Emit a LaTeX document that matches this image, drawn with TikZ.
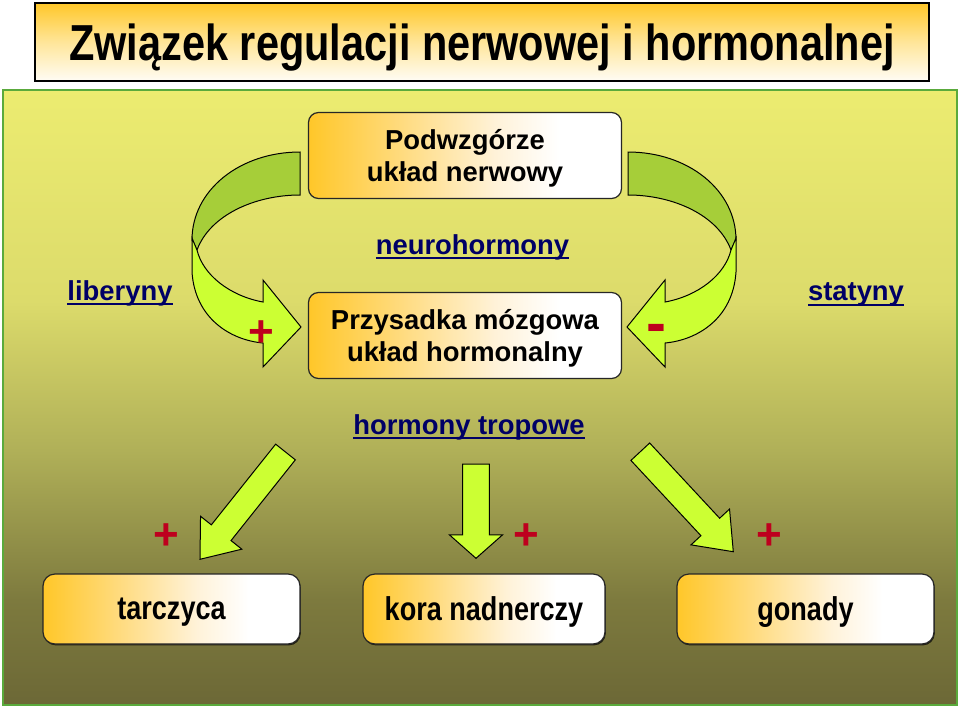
\documentclass[tikz,border=0pt]{standalone}
\usepackage{fontspec}
\setmainfont{Liberation Sans}
\newfontfamily\narrowfont[FakeStretch=0.82]{Liberation Sans}
\usetikzlibrary{calc,shadows}

\definecolor{labelblue}{RGB}{0,0,102}
\definecolor{signred}{RGB}{190,0,30}
\definecolor{arrowlight}{RGB}{204,255,51}
\definecolor{arrowdark}{RGB}{166,206,57}
\definecolor{panelline}{RGB}{90,170,60}

\pgfdeclareverticalshading{panelshade}{100bp}{rgb(0bp)=(0.424,0.408,0.212); rgb(25bp)=(0.424,0.408,0.212);
  rgb(33.5bp)=(0.49,0.478,0.243); rgb(45.7bp)=(0.69,0.69,0.345); rgb(57.9bp)=(0.863,0.859,0.42);
  rgb(75bp)=(0.925,0.925,0.44); rgb(100bp)=(0.925,0.925,0.44)}
\pgfdeclareverticalshading{titleshade}{100bp}{rgb(0bp)=(1,0.99,0.96); rgb(25bp)=(1,0.99,0.96);
  rgb(50bp)=(1,0.9,0.6); rgb(75bp)=(1,0.78,0.16); rgb(100bp)=(1,0.78,0.16)}
\pgfdeclarehorizontalshading{boxshade}{100bp}{rgb(0bp)=(1,0.78,0.16); rgb(25bp)=(1,0.78,0.16);
  rgb(40bp)=(1,0.86,0.5); rgb(55bp)=(1,0.95,0.85); rgb(65bp)=(1,1,1); rgb(100bp)=(1,1,1)}

\newcommand\ulabel[1]{\sbox0{#1}\rlap{\rule[-0.18em]{\wd0}{0.07em}}\usebox0}

\newcommand\blockarrow[5]{%
  \coordinate (#1h) at ($(#2)!#5!(#1)$);
  \draw[blockarrow] ($(#1)!#3!90:(#2)$) -- ($(#1h)!#3!90:(#2)$) -- ($(#1h)!#4!90:(#2)$) -- (#2)
    -- ($(#1h)!#4!-90:(#2)$) -- ($(#1h)!#3!-90:(#2)$) -- ($(#1)!#3!-90:(#2)$) -- cycle;}

\newcommand\curvedarrow{%
  \draw[bandback] (300,152) .. controls (240,152) and (192,190) .. (192,240) -- (197,250)
    .. controls (210,215) and (255,195) .. (300,195) -- cycle;
  \draw[bandfront] (192,238) -- (192,272) .. controls (195,318) and (230,340) .. (263,343)
    -- (263,367) -- (301,327) -- (263,280) -- (263,302)
    .. controls (230,296) and (203,275) .. (197,250) -- cycle;}

\begin{document}
\begin{tikzpicture}[x=0.5pt, y=-0.5pt,
  box/.style={draw=black!85, line width=0.6pt, rounded corners=5pt, shade, shading=boxshade,
    align=center, inner sep=0pt, font=\bfseries\fontsize{13.7}{16.2}\selectfont},
  brain/.style={box, minimum width=156.5pt, minimum height=43pt, text height=29pt},
  organ/.style={box, rounded corners=6pt, minimum height=35pt, text depth=0pt,
    drop shadow={shadow xshift=0.4pt, shadow yshift=-0.7pt, opacity=0.7, fill=black},
    font=\narrowfont\bfseries\fontsize{16.5}{18}\selectfont},
  tag/.style={text=labelblue, inner sep=0pt, anchor=base, font=\bfseries\fontsize{13.7}{16}\selectfont},
  sign/.style={text=signred, inner sep=0pt, font=\bfseries\fontsize{22}{22}\selectfont},
  bandback/.style={draw=black, line width=0.5pt, fill=arrowdark},
  bandfront/.style={draw=black, line width=0.5pt, fill=arrowlight},
  blockarrow/.style={draw=black, line width=0.5pt, fill=arrowlight}]

\useasboundingbox (0,0) rectangle (960,708);
\fill[white] (0,0) rectangle (960,708);
\shadedraw[shading=panelshade, draw=panelline, line width=1pt] (3,90) rectangle (957,705);

\node[draw=black, line width=1pt, shade, shading=titleshade, minimum width=447pt, minimum height=39pt,
  text depth=0pt, inner sep=0pt, font=\narrowfont\bfseries\fontsize{25.3}{28}\selectfont]
  (title) at (482,42) {Związek regulacji nerwowej i hormonalnej};

% petla sprzezenia
\curvedarrow
\begin{scope}[shift={(928,0)}, xscale=-1]
  \curvedarrow
\end{scope}

\node[brain] (podwzgorze) at (465,155.5) {Podwzgórze\\układ nerwowy};
\node[brain] (przysadka) at (465,335.5) {Przysadka mózgowa\\układ hormonalny};

\node[tag] (neuro) at (472.5,254) {\ulabel{neurohormony}};
\node[tag] (liberyny) at (120,300) {\ulabel{liberyny}};
\node[tag] (statyny) at (856,300.7) {\ulabel{statyny}};
\node[tag] (tropowe) at (469,434) {\ulabel{hormony tropowe}};

\node[sign] (plus0) at (261,334) {+};
\node[sign, font=\bfseries\fontsize{30}{30}\selectfont] (minus0) at (656,334) {-};

% gruczoly
\node[organ, minimum width=128.5pt] (tarczyca) at (171.5,609) {tarczyca};
\node[organ, minimum width=121pt] (kora) at (484,609) {kora nadnerczy};
\node[organ, minimum width=128.5pt] (gonady) at (805.5,609) {gonady};

\coordinate (l0) at (285.5,452); \coordinate (l1) at (200,559.3);
\coordinate (m0) at (476,464);   \coordinate (m1) at (476,558.3);
\coordinate (r0) at (640.3,451.7); \coordinate (r1) at (733.3,551.7);
\blockarrow{l0}{l1}{6.3pt}{13.2pt}{17pt}
\blockarrow{m0}{m1}{6.65pt}{13.25pt}{11.7pt}
\blockarrow{r0}{r1}{6.4pt}{13.15pt}{16.9pt}

\node[sign] (plus1) at (166.7,537) {+};
\node[sign] (plus2) at (526.7,537) {+};
\node[sign] (plus3) at (769.3,537) {+};
\end{tikzpicture}
\end{document}
